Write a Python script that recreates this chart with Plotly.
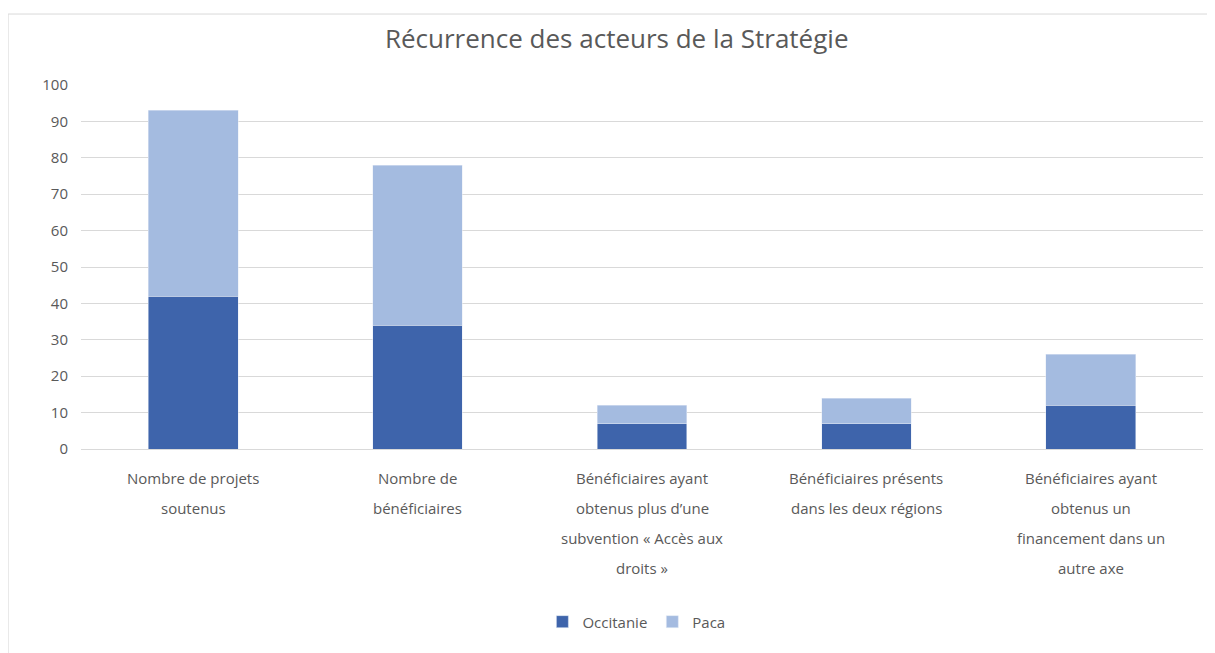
import plotly.graph_objects as go

categories = [
    "Nombre de projets<br>soutenus",
    "Nombre de<br>bénéficiaires",
    "Bénéficiaires ayant<br>obtenus plus d’une<br>subvention « Accès aux<br>droits »",
    "Bénéficiaires présents<br>dans les deux régions",
    "Bénéficiaires ayant<br>obtenus un<br>financement dans un<br>autre axe",
]
occitanie = [42, 34, 7, 7, 12]
paca = [51, 44, 5, 7, 14]

FONT = "Open Sans"
GREY = "#595959"

fig = go.Figure(data=[
    go.Bar(name="Occitanie", x=categories, y=occitanie, marker_color="#3E64AB", width=0.4),
    go.Bar(name="Paca", x=categories, y=paca, marker_color="#A4BBE0", width=0.4),
])

# category labels as annotations, one per line, to get the wide line spacing
annotations = []
for cat in categories:
    for i, line in enumerate(cat.split("<br>")):
        annotations.append(dict(
            x=cat, y=0, xref="x", yref="y", text=line, showarrow=False,
            yanchor="top", yshift=-17 - i * 30,
            font=dict(family=FONT, size=15, color=GREY),
        ))

fig.update_layout(
    barmode="stack",
    width=1215, height=653,
    margin=dict(l=73, r=20, t=77, b=212, autoexpand=False),
    paper_bgcolor="white", plot_bgcolor="white",
    title=dict(
        text="Récurrence des acteurs de la Stratégie",
        font=dict(family=FONT, size=26, color=GREY),
        x=0.501, xanchor="center", y=0.952, yanchor="middle",
    ),
    xaxis=dict(showticklabels=False, showgrid=False, showline=False, zeroline=False),
    yaxis=dict(
        range=[0, 100], dtick=10,
        gridcolor="#D9D9D9", gridwidth=1,
        zeroline=True, zerolinecolor="#D9D9D9", zerolinewidth=1,
        tickfont=dict(family=FONT, size=15, color=GREY),
        ticklabelstandoff=12,
    ),
    legend=dict(
        orientation="h", x=0.495, xanchor="center", y=-0.475, yanchor="middle",
        font=dict(family=FONT, size=15, color=GREY), traceorder="normal",
        itemwidth=30,
    ),
    annotations=annotations,
    shapes=[dict(
        type="rect", xref="paper", yref="paper",
        x0=-0.065, x1=1.006, y0=-0.7, y1=1.195,
        line=dict(color="#D9D9D9", width=1),
    )],
)

fig.write_html("out.html")
